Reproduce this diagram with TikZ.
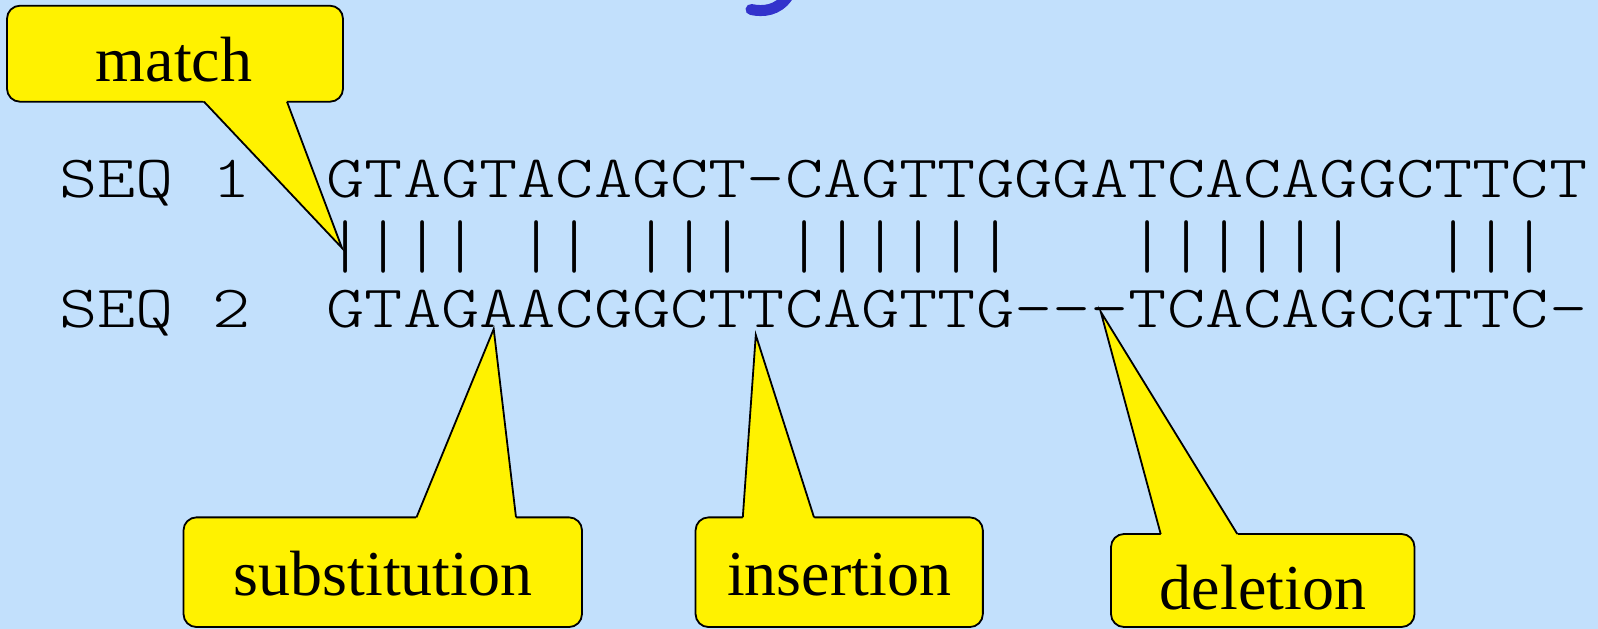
\documentclass[tikz,border=0pt]{standalone}
\usepackage{fontspec}
\usepackage{graphicx}
\usetikzlibrary{calc}
\newfontfamily\lblfont{Liberation Serif}
\newfontfamily\seqfont[Extension=.otf]{lmmonolt10-regular}
\definecolor{bgblue}{RGB}{194,224,252}
\definecolor{glyphblue}{RGB}{51,51,204}
\newcommand{\seqx}{1.2127}
\begin{document}
\begin{tikzpicture}[x=1pt,y=-1pt,
  callbox/.style={draw=black, fill=yellow, line width=1.8pt, rounded corners=13pt, inner sep=0pt},
  lbl/.style={font=\lblfont\fontsize{64}{64}\selectfont, inner sep=0pt, anchor=base},
  seqline/.style={font=\seqfont\fontsize{60}{60}\selectfont, inner sep=0pt, anchor=base west},
  barline/.style={font=\seqfont\fontsize{60}{60}\selectfont, inner sep=0pt, anchor=west},
  ptrfill/.style={fill=yellow},
  ptrline/.style={draw=black, line width=1.8pt, line join=miter}]
\fill[bgblue] (0,0) rectangle (1598,629);
\useasboundingbox (0,0) rectangle (1598,629);
\begin{scope}
\clip (0,0) rectangle (1598,629);
\draw[glyphblue, line width=11pt, line cap=round] (751,9.5) .. controls (763,12) and (778,11) .. (788,-4);
\end{scope}

% sequences
\node[seqline] (s1) at (59,197) {\scalebox{\seqx}[1]{SEQ~1~~GTAGTACAGCT{-}CAGTTGGGATCACAGGCTTCT}};
\node[barline] (bars) at (59,246.5) {\scalebox{\seqx}[1.12]{~~~~~~~||||~||~|||~||||||~~~||||||~~|||}};
\node[seqline] (s2) at (59,327) {\scalebox{\seqx}[1]{SEQ~2~~GTAGAACGGCTTCAGTTG{-}{-}{-}TCACAGCGTTC{-}}};

% match callout
\node[callbox, minimum width=336pt, minimum height=96pt] (mbox) at (175,53.7) {};
\coordinate (mb1) at (204,101.7);
\coordinate (mb2) at (287,101.7);
\coordinate (mtip) at (342,248);
\fill[ptrfill] ($(mtip)!1.03!(mb1)$) -- (mtip) -- ($(mtip)!1.03!(mb2)$) -- cycle;
\draw[ptrline] (mb1) -- (mtip) -- (mb2);
\node[lbl] (mtxt) at (174,81.7) {match};

% substitution callout
\node[callbox, minimum width=398.5pt, minimum height=109.7pt] (sbox) at (382.75,572.2) {};
\coordinate (sb1) at (416.5,517.3);
\coordinate (sb2) at (516,517.3);
\coordinate (stip) at (493.7,329);
\fill[ptrfill] ($(stip)!1.03!(sb1)$) -- (stip) -- ($(stip)!1.03!(sb2)$) -- cycle;
\draw[ptrline] (sb1) -- (stip) -- (sb2);
\node[lbl] (stxt) at (383,595) {substitution};

% insertion callout
\node[callbox, minimum width=287.3pt, minimum height=109.7pt] (ibox) at (839.2,572.2) {};
\coordinate (ib1) at (742.8,517.3);
\coordinate (ib2) at (814,517.3);
\coordinate (itip) at (755.8,335);
\fill[ptrfill] ($(itip)!1.03!(ib1)$) -- (itip) -- ($(itip)!1.03!(ib2)$) -- cycle;
\draw[ptrline] (ib1) -- (itip) -- (ib2);
\node[lbl] (itxt) at (839,595) {insertion};

% deletion callout
\node[callbox, minimum width=303.5pt, minimum height=93pt] (dbox) at (1262.75,580.5) {};
\coordinate (db1) at (1160.7,534);
\coordinate (db2) at (1237.3,534);
\coordinate (dtip) at (1100.7,311.7);
\fill[ptrfill] ($(dtip)!1.03!(db1)$) -- (dtip) -- ($(dtip)!1.03!(db2)$) -- cycle;
\draw[ptrline] (db1) -- (dtip) -- (db2);
\node[lbl] (dtxt) at (1263,609) {deletion};
\end{tikzpicture}
\end{document}
